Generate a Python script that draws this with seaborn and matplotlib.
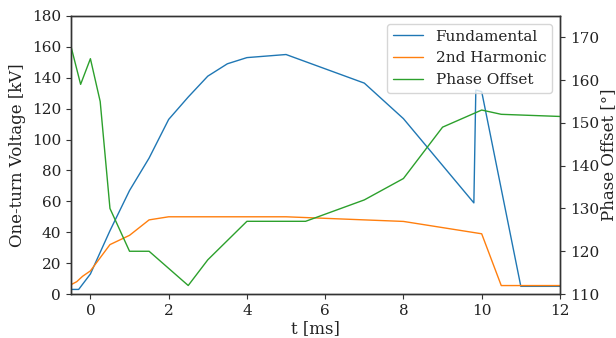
import matplotlib
matplotlib.use("Agg")
import matplotlib.pyplot as plt
import seaborn as sns
import pandas as pd

# Data
t_fund = [-0.5, -0.3, 0, 0.5, 1, 1.5, 2, 2.5, 3, 3.5, 4, 5, 7, 8, 9.8, 9.85, 10, 11, 12]
v_fund = [3, 3, 13, 41, 67, 88, 113, 127.5, 141, 149, 153, 155, 136.5, 113.5, 59, 132, 131, 5, 5]

t_harm = [-0.5, -0.35, -0.2, 0, 0.5, 1, 1.5, 2, 5, 6, 7, 8, 9, 10, 10.5, 12]
v_harm = [6, 8, 11.5, 15, 32, 38, 48, 50, 50, 49, 48, 47, 43, 39, 5.5, 5.5]

t_phase = [-0.5, -0.25, 0, 0.25, 0.5, 1, 1.5, 2.5, 3, 4, 5.5, 7, 8, 9, 10, 10.5, 12]
phase = [168, 159, 165, 155, 130, 120, 120, 112, 118, 127, 127, 132, 137, 149, 153, 152, 151.5]

labels = ["Fundamental", "2nd Harmonic", "Phase Offset"]
colors = ["#1f77b4", "#ff7f0e", "#2ca02c"]

sns.set_theme(style="ticks", rc={
    "axes.edgecolor": "#333333",
    "axes.linewidth": 1.0,
    "xtick.color": "#333333",
    "ytick.color": "#333333",
    "xtick.labelcolor": "#222222",
    "ytick.labelcolor": "#222222",
    "xtick.major.size": 3.5,
    "ytick.major.size": 3.5,
    "xtick.major.width": 0.8,
    "ytick.major.width": 0.8,
    "axes.labelcolor": "#222222",
    "text.color": "#222222",
})
plt.rcParams["font.family"] = ["DejaVu Serif"]

fig = plt.figure(figsize=(6.16, 3.38), dpi=100)
ax = fig.add_axes([0.115, 0.13, 0.794, 0.823])

df_f = pd.DataFrame({"t": t_fund, "v": v_fund})
df_h = pd.DataFrame({"t": t_harm, "v": v_harm})
df_p = pd.DataFrame({"t": t_phase, "v": phase})

sns.lineplot(data=df_f, x="t", y="v", ax=ax, color=colors[0], lw=1.0, label=labels[0], legend=False, estimator=None, sort=False)
sns.lineplot(data=df_h, x="t", y="v", ax=ax, color=colors[1], lw=1.0, label=labels[1], legend=False, estimator=None, sort=False)
ax2 = ax.twinx()
sns.lineplot(data=df_p, x="t", y="v", ax=ax2, color=colors[2], lw=1.0, label=labels[2], legend=False, estimator=None, sort=False)

ax.set_xlim(-0.5, 12)
ax.set_ylim(0, 180)
ax.set_xticks([0, 2, 4, 6, 8, 10, 12])
ax.set_yticks(range(0, 181, 20))
ax2.set_ylim(110, 175)
ax2.set_yticks(range(110, 171, 10))

ax.set_xlabel("t [ms]", fontsize=12, labelpad=2)
ax.set_ylabel("One-turn Voltage [kV]", fontsize=12, labelpad=4)
ax2.set_ylabel("Phase Offset [°]", fontsize=12, labelpad=1)
ax.tick_params(labelsize=11)
ax2.tick_params(labelsize=11)

h1, l1 = ax.get_legend_handles_labels()
h2, l2 = ax2.get_legend_handles_labels()
leg = ax2.legend(h1 + h2, l1 + l2, loc="upper right", fontsize=11, frameon=True)
leg.get_frame().set_edgecolor("#cccccc")
leg.get_frame().set_alpha(0.8)

fig.savefig("out.png", dpi=100)
